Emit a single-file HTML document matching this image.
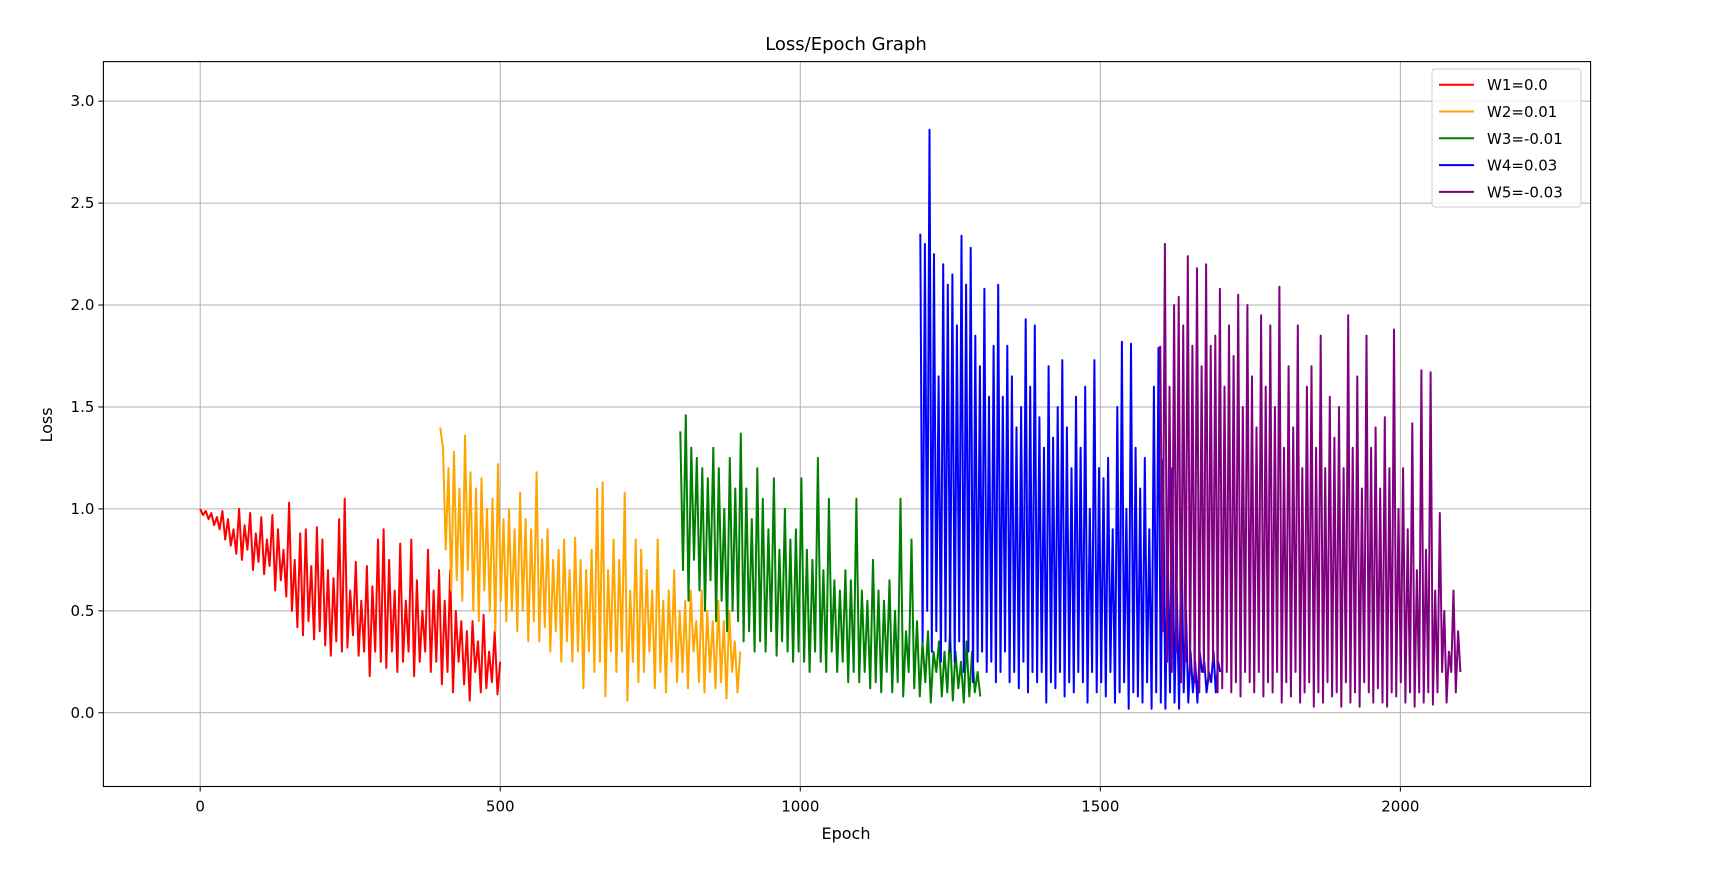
<!DOCTYPE html>
<html><head><meta charset="utf-8"><style>
body{margin:0;background:#fff;}
svg{display:block;font-family:"DejaVu Sans","Liberation Sans",sans-serif;}
</style></head><body>
<svg id="chart" width="1725" height="880" viewBox="0 0 1725 880">
<rect width="1725" height="880" fill="#fff"/>
<text x="846" y="50" font-size="18" text-anchor="middle">Loss/Epoch Graph</text>
<g id="grid"></g>
<g id="series"></g>
<rect x="103.4" y="61.6" width="1487.2" height="724.9" fill="none" stroke="#000" stroke-width="1.1"/>
<g id="ticks"></g>
<text x="846" y="839" font-size="16" text-anchor="middle">Epoch</text>
<text x="0" y="0" font-size="16" text-anchor="middle" transform="translate(52,425) rotate(-90)">Loss</text>
<g id="legend"></g>
</svg>
<script>
const xTicks=[0,500,1000,1500,2000];
const yTicks=[0.0,0.5,1.0,1.5,2.0,2.5,3.0];
const seriesNames=["W1=0.0","W2=0.01","W3=-0.01","W4=0.03","W5=-0.03"];
const seriesColors=["red","orange","green","blue","purple"];
const seriesStarts=[0,400,800,1200,1600];
const seriesSpan=500;
const w1=[1.0,0.97,0.99,0.95,0.98,0.92,0.96,0.9,0.99,0.85,0.95,0.82,0.9,0.78,1.0,0.75,0.92,0.8,0.98,0.7,0.88,0.74,0.96,0.68,0.85,0.72,0.97,0.6,0.9,0.65,0.8,0.57,1.03,0.5,0.75,0.42,0.88,0.38,0.9,0.45,0.72,0.36,0.91,0.4,0.85,0.33,0.7,0.28,0.66,0.35,0.95,0.3,1.05,0.32,0.6,0.38,0.74,0.28,0.55,0.3,0.72,0.18,0.62,0.3,0.85,0.25,0.9,0.22,0.75,0.3,0.6,0.2,0.83,0.25,0.55,0.3,0.85,0.18,0.65,0.25,0.5,0.3,0.8,0.2,0.6,0.25,0.7,0.14,0.55,0.2,0.7,0.1,0.5,0.25,0.45,0.14,0.4,0.06,0.45,0.2,0.35,0.1,0.48,0.12,0.3,0.15,0.4,0.09,0.25];
const w2=[1.4,1.3,0.8,1.2,0.6,1.28,0.65,1.1,0.55,1.36,0.7,1.18,0.5,1.1,0.45,1.15,0.6,1.0,0.5,1.05,0.4,1.22,0.55,0.95,0.45,1.0,0.5,0.9,0.4,1.08,0.5,0.95,0.35,0.9,0.45,1.18,0.35,0.85,0.42,0.9,0.3,0.75,0.4,0.8,0.25,0.85,0.35,0.7,0.25,0.86,0.3,0.75,0.12,0.7,0.3,0.8,0.2,1.1,0.25,1.13,0.08,0.7,0.3,0.85,0.2,0.75,0.3,1.08,0.06,0.6,0.25,0.85,0.15,0.8,0.2,0.7,0.3,0.6,0.12,0.85,0.2,0.55,0.1,0.6,0.25,0.7,0.15,0.5,0.2,0.55,0.12,0.6,0.3,0.45,0.15,0.6,0.1,0.5,0.2,0.45,0.12,0.55,0.15,0.45,0.07,0.5,0.2,0.35,0.1,0.3];
const w3=[1.38,0.7,1.46,0.55,1.3,0.75,1.25,0.6,1.2,0.5,1.15,0.65,1.3,0.45,1.2,0.55,1.0,0.4,1.25,0.5,1.1,0.45,1.37,0.35,1.1,0.4,0.95,0.3,1.2,0.35,1.05,0.3,0.9,0.4,1.15,0.28,0.8,0.35,1.0,0.3,0.85,0.25,0.9,0.3,1.15,0.25,0.8,0.2,0.75,0.3,1.25,0.25,0.7,0.2,1.05,0.3,0.65,0.2,0.6,0.25,0.7,0.15,0.65,0.2,1.05,0.15,0.6,0.2,0.55,0.12,0.75,0.15,0.6,0.1,0.55,0.2,0.65,0.1,0.5,0.15,1.05,0.08,0.4,0.2,0.85,0.12,0.45,0.08,0.35,0.15,0.4,0.05,0.3,0.2,0.35,0.08,0.3,0.1,0.4,0.06,0.3,0.12,0.25,0.05,0.35,0.08,0.3,0.1,0.2,0.08];
const w4=[2.35,0.35,2.3,0.5,2.86,0.3,2.25,0.4,1.65,0.25,2.2,0.35,2.1,0.3,2.15,0.25,1.9,0.35,2.34,0.2,2.1,0.3,2.28,0.15,1.85,0.25,1.7,0.3,2.08,0.2,1.55,0.25,1.8,0.15,2.1,0.2,1.55,0.3,1.8,0.15,1.65,0.2,1.4,0.12,1.5,0.25,1.93,0.1,1.6,0.2,1.9,0.15,1.45,0.2,1.3,0.05,1.7,0.15,1.35,0.12,1.5,0.2,1.73,0.08,1.4,0.15,1.2,0.1,1.55,0.2,1.3,0.15,1.6,0.05,1.0,0.2,1.73,0.1,1.2,0.15,1.15,0.08,1.25,0.2,0.9,0.05,1.5,0.1,1.82,0.15,1.0,0.02,1.81,0.1,1.3,0.08,1.1,0.05,1.25,0.15,0.9,0.02,1.6,0.1,1.79,0.05,1.24,0.02,0.8,0.1,1.2,0.05,0.6,0.02,0.9,0.1,0.5,0.05,0.3,0.1,0.25,0.05,0.3,0.2,0.25,0.1,0.2,0.15,0.3,0.1,0.25,0.2];
const w5=[1.8,0.4,2.3,0.25,1.6,0.2,2.0,0.3,2.04,0.15,1.9,0.25,2.24,0.2,1.8,0.15,2.18,0.1,1.7,0.2,2.2,0.15,1.8,0.25,1.85,0.1,2.08,0.12,1.6,0.2,1.9,0.1,1.75,0.15,2.05,0.08,1.5,0.2,2.0,0.15,1.65,0.1,1.4,0.2,1.95,0.08,1.6,0.15,1.9,0.1,1.5,0.2,2.09,0.05,1.3,0.15,1.7,0.08,1.4,0.2,1.9,0.05,1.2,0.1,1.6,0.15,1.7,0.03,1.3,0.1,1.85,0.05,1.2,0.15,1.55,0.08,1.35,0.1,1.5,0.03,1.2,0.15,1.95,0.05,1.3,0.1,1.65,0.03,1.1,0.15,1.85,0.1,1.3,0.05,1.4,0.12,1.1,0.05,1.45,0.03,1.2,0.1,1.88,0.08,1.0,0.15,1.2,0.05,0.9,0.1,1.42,0.03,0.7,0.1,1.68,0.05,0.8,0.1,1.67,0.04,0.6,0.1,0.98,0.2,0.5,0.05,0.3,0.2,0.6,0.1,0.4,0.2];
const seriesValues=[w1,w2,w3,w4,w5];

const NS="http://www.w3.org/2000/svg";
const L=103.4,R=1590.6,T=61.6,B=786.5;
const xMin=-161.3,xMax=2317,yMin=-0.3615,yMax=3.194;
function sx(v){return L+(v-xMin)/(xMax-xMin)*(R-L);}
function sy(v){return B-(v-yMin)/(yMax-yMin)*(B-T);}
function mk(tag,attrs,parent){const e=document.createElementNS(NS,tag);for(const k in attrs)e.setAttribute(k,attrs[k]);parent.appendChild(e);return e;}
const grid=document.getElementById('grid'),ticks=document.getElementById('ticks');
xTicks.forEach(v=>{
  const g=mk('line',{x1:sx(v),x2:sx(v),y1:T,y2:B,stroke:'#b0b0b0','stroke-width':1},grid);
  
  
  const t=mk('line',{x1:sx(v),x2:sx(v),y1:B,y2:B+5,stroke:'#000'},ticks);
  
  
  const l=mk('text',{x:sx(v),y:B+25,'font-size':15,'text-anchor':'middle'},ticks);
  l.textContent=String(v);
  
  
});
yTicks.forEach(v=>{
  const g=mk('line',{x1:L,x2:R,y1:sy(v),y2:sy(v),stroke:'#b0b0b0','stroke-width':1},grid);
  
  
  const t=mk('line',{x1:L-5,x2:L,y1:sy(v),y2:sy(v),stroke:'#000'},ticks);
  
  
  const l=mk('text',{x:L-9,y:sy(v)+5,'font-size':15,'text-anchor':'end'},ticks);
  l.textContent=v.toFixed(1);
  
  
});
const sg=document.getElementById('series');
seriesValues.forEach((vals,i)=>{
  const step=seriesSpan/(vals.length-1);
  const pts=vals.map((v,j)=>sx(seriesStarts[i]+j*step).toFixed(1)+','+sy(v).toFixed(1)).join(' ');
  const p=mk('polyline',{points:pts,fill:'none',stroke:seriesColors[i],'stroke-width':2,'stroke-linejoin':'round'},sg);
  
  
});
const lg=document.getElementById('legend');
const box=mk('rect',{x:1432,y:69,width:149,height:138,rx:3,fill:'#fff','fill-opacity':0.8,stroke:'#ccc'},lg);


seriesNames.forEach((n,i)=>{
  const y=84.7+i*26.8;
  const ln=mk('line',{x1:1439,x2:1474,y1:y,y2:y,stroke:seriesColors[i],'stroke-width':2},lg);
  
  
  const t=mk('text',{x:1487,y:y+5.5,'font-size':15},lg);
  t.textContent=n;
  
  
});
</script>
</body></html>
